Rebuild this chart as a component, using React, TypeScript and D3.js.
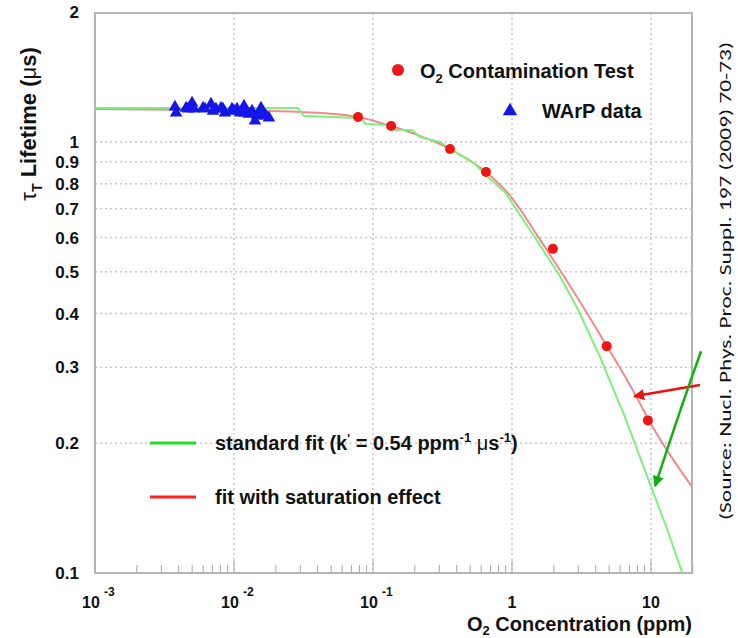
import React from 'react';
import * as d3 from 'd3';

// ---- axis ticks ----
const xTickValues = [0.001, 0.01, 0.1, 1, 10];
const xTickBase = ['10', '10', '10', '1', '10'];
const xTickExp = ['-3', '-2', '-1', '', ''];
const yTickValues = [0.1, 0.2, 0.3, 0.4, 0.5, 0.6, 0.7, 0.8, 0.9, 1, 2];
const yTickLabels = ['0.1', '0.2', '0.3', '0.4', '0.5', '0.6', '0.7', '0.8', '0.9', '1', '2'];
const yGridValues = [0.2, 0.3, 0.4, 0.5, 0.6, 0.7, 0.8, 0.9, 1];

// ---- O2 contamination test (red dots) ----
const o2Conc = [0.078, 0.135, 0.358, 0.65, 1.97, 4.8, 9.5];
const o2Tau = [1.143, 1.089, 0.963, 0.852, 0.565, 0.336, 0.226];

// ---- WArP data (blue triangles) ----
const warpConc = [0.00376, 0.00383, 0.00452, 0.00467, 0.00499, 0.00515, 0.00598, 0.00619, 0.00683, 0.00706,
  0.00742, 0.00806, 0.00833, 0.00861, 0.00967, 0.0100, 0.01051, 0.01105, 0.0118, 0.0120,
  0.01282, 0.01348, 0.01416, 0.01464, 0.01564, 0.0159, 0.01699, 0.01785];
const warpTau = [1.206, 1.168, 1.199, 1.193, 1.232, 1.193, 1.199, 1.193, 1.225, 1.180,
  1.193, 1.199, 1.193, 1.168, 1.193, 1.180, 1.193, 1.168, 1.212, 1.168,
  1.161, 1.180, 1.119, 1.149, 1.199, 1.161, 1.149, 1.137];

// ---- standard fit (green) ----
const stdFitConc = [0.001, 0.0288, 0.0319, 0.0805, 0.0891, 0.128, 0.144, 0.191, 0.218, 0.303, 0.370, 0.542, 0.695, 0.891, 1.44, 2.21, 3.0, 4.3, 6.5, 9.84, 13, 16.7, 20];
const stdFitTau = [1.199, 1.199, 1.149, 1.137, 1.101, 1.095, 1.066, 1.066, 1.027, 1.0, 0.958, 0.889, 0.821, 0.765, 0.605, 0.489, 0.407, 0.317, 0.230, 0.161, 0.127, 0.1005, 0.085];

// ---- fit with saturation effect (red) ----
const satFitConc = [0.001, 0.00569, 0.0299, 0.078, 0.1346, 0.218, 0.358, 0.65, 1.0, 1.513, 2.70, 4.82, 7.67, 9.51, 20];
const satFitTau = [1.193, 1.186, 1.174, 1.143, 1.089, 1.033, 0.963, 0.852, 0.741, 0.608, 0.456, 0.336, 0.260, 0.228, 0.1575];

// ---- annotation arrows (data coords) ----
const redArrow = [[22.5, 0.273], [7.55, 0.257]];
const greenArrow = [[22.9, 0.327], [16.0, 0.235], [10.7, 0.159]];

const W = 738, H = 638;
const L = 95, R = 692, T = 13, B = 573;

export default function App() {
  const x = d3.scaleLog().domain([0.001, 20]).range([L, L + 139 * Math.log10(20000)]);
  const y = d3.scaleLog().domain([0.1, 2]).range([B, B - 431 * Math.log10(20)]);

  const stdLine = d3.line<number>().x((d) => x(stdFitConc[d])).y((d) => y(stdFitTau[d]));
  const satLine = d3.line<number>().x((d) => x(satFitConc[d])).y((d) => y(satFitTau[d])).curve(d3.curveMonotoneX);
  const arrowLine = d3.line<number[]>().x((d) => x(d[0])).y((d) => y(d[1])).curve(d3.curveCatmullRom);

  const minorTicks: number[] = [];
  for (let e = -3; e <= 1; e++) {
    for (let k = 2; k <= 9; k++) {
      const v = k * Math.pow(10, e);
      if (v <= 20) minorTicks.push(v);
    }
  }

  const tri = d3.symbol().type(d3.symbolTriangle).size(68)();
  const bold = { fontFamily: '"Liberation Sans", Arial, Helvetica, sans-serif', fontWeight: 'bold' as const };

  return (
    <svg width={W} height={H} style={{ position: 'absolute', left: 0, top: 0, background: '#fff' }}>
      <defs>
        <clipPath id="plot">
          <rect x={L} y={T} width={R - L} height={B - T} />
        </clipPath>
        <marker id="ahRed" viewBox="0 0 10 10" refX="9" refY="5" markerWidth="4.5" markerHeight="4.5" orient="auto">
          <path d="M0,0 L10,5 L0,10 z" fill="#ee1111" />
        </marker>
        <marker id="ahGreen" viewBox="0 0 10 10" refX="9" refY="5" markerWidth="4.5" markerHeight="4.5" orient="auto">
          <path d="M0,0 L10,5 L0,10 z" fill="#11b011" />
        </marker>
      </defs>

      {/* grid */}
      {yGridValues.map((v, i) => (
        <line key={'gy' + i} x1={L} x2={R} y1={y(v)} y2={y(v)} stroke="#c8c8c8" strokeWidth={1.5} strokeDasharray="2,3" />
      ))}
      {xTickValues.slice(1).map((v, i) => (
        <line key={'gx' + i} x1={x(v)} x2={x(v)} y1={T} y2={B} stroke="#c8c8c8" strokeWidth={1.5} strokeDasharray="2,3" />
      ))}

      {/* minor ticks */}
      {minorTicks.map((v, i) => (
        <line key={'mt' + i} x1={x(v)} x2={x(v)} y1={B} y2={B - 8} stroke="#a8a8a8" strokeWidth={1} />
      ))}
      {xTickValues.map((v, i) => (
        <line key={'mj' + i} x1={x(v)} x2={x(v)} y1={B} y2={B - 13} stroke="#a8a8a8" strokeWidth={1} />
      ))}

      {/* frame */}
      <rect x={L} y={T} width={R - L} height={B - T} fill="none" stroke="#b4b4b4" strokeWidth={2} />

      {/* curves */}
      <g clipPath="url(#plot)">
        <path d={satLine(d3.range(satFitConc.length)) || ''} fill="none" stroke="#f08a8a" strokeWidth={2} />
        <path d={stdLine(d3.range(stdFitConc.length)) || ''} fill="none" stroke="#7fee7f" strokeWidth={2} />
        {warpConc.map((c, i) => (
          <path key={'w' + i} d={tri || ''} transform={`translate(${x(c)},${y(warpTau[i])})`} fill="#1515e8" />
        ))}
        {o2Conc.map((c, i) => (
          <circle key={'o' + i} cx={x(c)} cy={y(o2Tau[i])} r={5} fill="#f01515" />
        ))}
      </g>

      {/* y tick labels */}
      {yTickValues.map((v, i) => (
        <text key={'yl' + i} x={79} y={y(v)} dy="0.36em" textAnchor="end" fontSize={17} {...bold} fill="#111">
          {yTickLabels[i]}
        </text>
      ))}

      {/* x tick labels */}
      {xTickValues.map((v, i) => (
        <g key={'xl' + i}>
          <text x={x(v) - (xTickExp[i] ? 4 : 0)} y={608} textAnchor="middle" fontSize={16} {...bold} fill="#111">
            {xTickBase[i]}
          </text>
          {xTickExp[i] && (
            <text x={x(v) + 9} y={596} textAnchor="start" fontSize={12} {...bold} fill="#111">
              {xTickExp[i]}
            </text>
          )}
        </g>
      ))}

      {/* axis titles */}
      <text x={692} y={631} textAnchor="end" fontSize={20} {...bold} fill="#111">
        O<tspan fontSize={13} dy={4}>2</tspan><tspan dy={-4}> Concentration (ppm)</tspan>
      </text>
      <text transform="translate(36,124) rotate(-90)" textAnchor="middle" fontSize={22} {...bold} fill="#111">
        <tspan fontWeight="normal">τ</tspan><tspan fontSize={14} dy={6}>T</tspan><tspan dy={-6}> Lifetime (</tspan><tspan fontWeight="normal">μ</tspan>s)
      </text>

      {/* legend top */}
      <circle cx={398} cy={70} r={6} fill="#f01515" />
      <text x={420} y={78} fontSize={20} {...bold} fill="#111">
        O<tspan fontSize={13} dy={5}>2</tspan><tspan dy={-5}> Contamination Test</tspan>
      </text>
      <path d={tri || ''} transform={`translate(510,111) scale(1.15)`} fill="#1515e8" />
      <text x={542} y={118} fontSize={20} {...bold} fill="#111">WArP data</text>

      {/* legend bottom */}
      <line x1={150} x2={196} y1={443} y2={443} stroke="#22dd22" strokeWidth={3} />
      <text x={215} y={450} fontSize={20} {...bold} fill="#111">
        standard fit (k<tspan fontSize={12} dy={-7}>'</tspan><tspan dy={7}> = 0.54 ppm</tspan><tspan fontSize={13} dy={-8}>-1</tspan><tspan dy={8}> </tspan><tspan fontWeight="normal">μ</tspan>s<tspan fontSize={13} dy={-8}>-1</tspan><tspan dy={8}>)</tspan>
      </text>
      <line x1={150} x2={196} y1={497} y2={497} stroke="#ff2020" strokeWidth={3} />
      <text x={215} y={504} fontSize={20} {...bold} fill="#111">fit with saturation effect</text>

      {/* annotation arrows */}
      <path d={arrowLine(redArrow) || ''} fill="none" stroke="#ee1111" strokeWidth={2.5} markerEnd="url(#ahRed)" />
      <path d={arrowLine(greenArrow) || ''} fill="none" stroke="#11b011" strokeWidth={2.5} markerEnd="url(#ahGreen)" />

      {/* source note */}
      <text transform="translate(731,281) rotate(-90)" textAnchor="middle" fontSize={17}
        fontFamily='Carlito, "Open Sans", "Liberation Sans", sans-serif' fill="#111" textLength={478} lengthAdjust="spacingAndGlyphs">
        (Source: Nucl. Phys. Proc. Suppl. 197 (2009) 70-73)
      </text>
    </svg>
  );
}
